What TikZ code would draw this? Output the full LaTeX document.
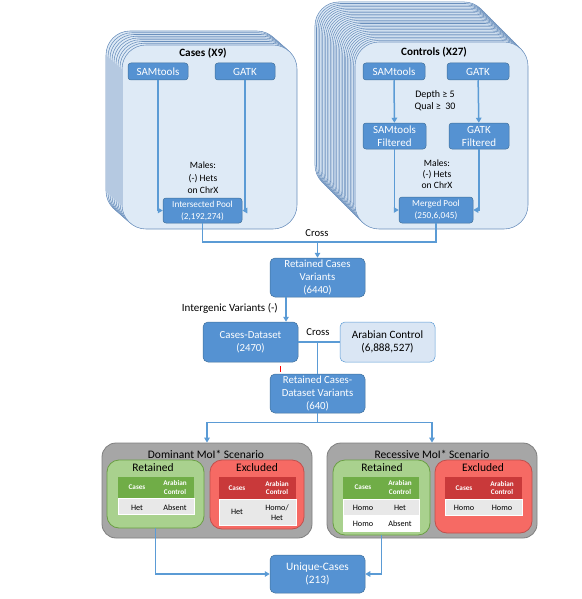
\documentclass[tikz,border=0pt]{standalone}
\usepackage{fontspec}
\setmainfont{Carlito}
\usetikzlibrary{arrows.meta}
\definecolor{toolblue}{HTML}{5592D2}
\definecolor{tooledge}{HTML}{41719C}
\definecolor{cardfill}{HTML}{DEEAF6}
\definecolor{cardedge}{HTML}{6A8FBC}
\definecolor{arabfill}{HTML}{DAE6F4}
\definecolor{linkblue}{HTML}{5B9BD5}
\definecolor{scenfill}{HTML}{A6A6A6}
\definecolor{scenedge}{HTML}{7F7F7F}
\definecolor{retfill}{HTML}{A9D18E}
\definecolor{retedge}{HTML}{6A9E44}
\definecolor{hdrgreen}{HTML}{70AD47}
\definecolor{excfill}{HTML}{F66A64}
\definecolor{excedge}{HTML}{C0504D}
\definecolor{hdrred}{HTML}{C9393A}
\definecolor{rowgray}{HTML}{E8E8E8}
\tikzset{
	card/.style={draw=cardedge, fill=cardfill, line width=0.55pt, rounded corners=24pt},
	tool/.style={draw=tooledge, fill=toolblue, text=white, rounded corners=3pt, align=center, inner sep=0pt, line width=0.5pt, font=\fontsize{11}{13}\selectfont},
	pool/.style={tool, font=\fontsize{9.2}{12}\selectfont},
	stepbox/.style={tool, rounded corners=5pt, font=\fontsize{10.8}{12.7}\selectfont},
	note/.style={align=center, inner sep=0pt, font=\fontsize{9.6}{13}\selectfont},
	cardtitle/.style={inner sep=0pt, font=\bfseries\fontsize{11.2}{13}\selectfont},
	link/.style={draw=linkblue, line width=1.5pt},
	arr/.style={link, ->},
	scenario/.style={draw=scenedge, fill=scenfill, line width=0.8pt, rounded corners=14pt, inner sep=0pt},
	retbox/.style={draw=retedge, fill=retfill, line width=0.8pt, rounded corners=12pt, inner sep=0pt, minimum width=97pt},
	excbox/.style={draw=excedge, fill=excfill, line width=0.8pt, rounded corners=12pt, inner sep=0pt},
	boxtitle/.style={inner sep=0pt, font=\fontsize{11.5}{13}\selectfont},
	hdr/.style={inner sep=0pt, minimum width=76pt, minimum height=22pt},
	row/.style={draw=white, line width=1pt, inner sep=0pt, minimum width=76pt},
	htext/.style={text=white, align=center, inner sep=0pt, font=\bfseries\fontsize{7.2}{8.5}\selectfont},
	ctext/.style={align=center, inner sep=0pt, font=\fontsize{8.2}{10.5}\selectfont}
}
\begin{document}
\begin{tikzpicture}[x=1pt,y=-1pt,>={Triangle[length=5pt,width=5.5pt]}]
	\useasboundingbox (0,0) rectangle (581,599);
	\foreach \i in {8,7,...,0}
		\draw[card] (122-2*\i,45-1.75*\i) rectangle ++(175,184);
	\foreach \i in {26,25,...,0}
		\draw[card] (355-1.54*\i,42-1.54*\i) rectangle ++(173,187);
	\node[cardtitle] (ctitle) at (203,53) {Cases (X9)};
	\node[tool, minimum width=60pt, minimum height=17pt] (csam) at (158,71.5) {SAMtools};
	\node[tool, minimum width=60pt, minimum height=17pt] (cgatk) at (245,71.5) {GATK};
	\node[note, font=\fontsize{9.6}{12.5}\selectfont] (cmale) at (203,178) {Males:\\(-) Hets\\on ChrX};
	\node[pool, minimum width=79pt, minimum height=25pt] (cpool) at (202.5,210.5) {Intersected Pool\\(2,192,274)};
	\draw[arr] (csam.south) |- (cpool.west);
	\draw[arr] (cgatk.south) |- (cpool.east);
	\node[cardtitle] (ktitle) at (434,52) {Controls (X27)};
	\node[tool, minimum width=62pt, minimum height=17pt] (ksam) at (394,71.5) {SAMtools};
	\node[tool, minimum width=62pt, minimum height=17pt] (kgatk) at (478,71.5) {GATK};
	\node[note, font=\fontsize{10}{12}\selectfont] (kdepth) at (435,101) {Depth ≥ 5\\Qual ≥~ 30};
	\node[tool, minimum width=63pt, minimum height=26pt] (ksamf) at (394.5,136) {SAMtools\\Filtered};
	\node[tool, minimum width=60pt, minimum height=26pt] (kgatkf) at (479,136) {GATK\\Filtered};
	\node[note, font=\fontsize{9.6}{11}\selectfont] (kmale) at (437,174) {Males:\\(-) Hets\\on ChrX};
	\node[pool, minimum width=74pt, minimum height=26pt] (kpool) at (436,210) {Merged Pool\\(250,6,045)};
	\draw[arr] (ksam) -- (ksamf);
	\draw[arr] (kgatk) -- (kgatkf);
	\draw[arr] (ksamf.south) |- (kpool.west);
	\draw[arr] (kgatkf.south) |- (kpool.east);
	\node[stepbox, minimum width=95pt, minimum height=39pt] (rcv) at (317.5,277.5) {Retained Cases\\Variants\\(6440)};
	\coordinate (cross1) at (rcv.north |- 0,242);
	\draw[link] (cpool.south) |- (cross1) -| (kpool.south);
	\draw[arr] (cross1) -- (rcv.north);
	\node[note, font=\fontsize{10.6}{12}\selectfont] (cross1txt) at (317,233) {Cross};
	\node[stepbox, minimum width=95pt, minimum height=40pt] (cds) at (250.5,342) {Cases-Dataset\\(2470)};
	\node[stepbox, fill=arabfill, draw=linkblue, text=black, font=\fontsize{11.2}{13}\selectfont, minimum width=95pt, minimum height=40pt] (arab) at (387.5,342) {Arabian Control\\(6,888,527)};
	\draw[arr] ([xshift=-31.5pt]rcv.south) -- ([xshift=-31.5pt]rcv.south |- cds.north);
	\node[note, anchor=east, font=\fontsize{11}{12}\selectfont] (intergenic) at (278,308) {Intergenic Variants (-)};
	\node[stepbox, minimum width=95pt, minimum height=39pt] (rcdv) at (317.5,393.5) {Retained Cases-\\Dataset Variants\\(640)};
	\draw[link] (cds.east) -- (arab.west);
	\draw[link] (rcdv.north |- cds.east) -- (rcdv.north);
	\node[note, font=\fontsize{10.6}{12}\selectfont] (cross2txt) at (318,332) {Cross};
	\draw[red, line width=0.8pt] (280,366) -- (280,372);
	\node[scenario, minimum width=210pt, minimum height=95pt] (dom) at (207,490.5) {};
	\node[scenario, minimum width=210pt, minimum height=95pt] (rec) at (432,490.5) {};
	\draw[arr] (rcdv.south) -- ++(0,9) -| (dom.north);
	\draw[arr] (rcdv.south) -- ++(0,9) -| (rec.north);
	\node[note, font=\fontsize{11.5}{13}\selectfont] (domtitle) at (206,454) {Dominant MoI* Scenario};
	\node[note, font=\fontsize{11.5}{13}\selectfont] (rectitle) at (432,454) {Recessive MoI* Scenario};
	\node[retbox, minimum height=68pt] (domret) at (155.5,494) {};
	\node[excbox, minimum width=94pt, minimum height=69pt] (domexc) at (257,494.5) {};
	\node[retbox, minimum height=75pt] (recret) at (381.5,497.5) {};
	\node[excbox, minimum width=97pt, minimum height=73pt] (recexc) at (483.5,496.5) {};
	\node[boxtitle] (domrett) at (153,468) {Retained};
	\node[boxtitle] (domexct) at (257,468) {Excluded};
	\node[boxtitle] (recrett) at (382,468) {Retained};
	\node[boxtitle] (recexct) at (483,468) {Excluded};
	\node[hdr, fill=hdrgreen, minimum height=21pt] (drh) at (156,487.5) {};
	\node[row, fill=rowgray, minimum height=16pt] (drr) at (156,506) {};
	\node[htext] (drh1) at (137,487.5) {Cases};
	\node[htext] (drh2) at (175,487.5) {Arabian\\Control};
	\node[ctext] (drr1) at (137,507.5) {Het};
	\node[ctext] (drr2) at (175,507.5) {Absent};
	\node[hdr, fill=hdrred, minimum width=77pt] (deh) at (257.5,488) {};
	\node[row, fill=rowgray, minimum width=77pt, minimum height=26pt] (der) at (257.5,512) {};
	\node[htext] (deh1) at (237,488) {Cases};
	\node[htext] (deh2) at (277,488) {Arabian\\Control};
	\node[ctext] (der1) at (237,512) {Het};
	\node[ctext] (der2) at (277,512.5) {Homo/\\Het};
	\node[hdr, fill=hdrgreen] (rrh) at (381,487.5) {};
	\node[row, fill=rowgray, minimum height=16pt] (rrr1) at (381,507) {};
	\node[row, fill=white, minimum height=16pt] (rrr2) at (381,523.5) {};
	\node[htext] (rrh1) at (363,487.5) {Cases};
	\node[htext] (rrh2) at (400,487.5) {Arabian\\Control};
	\node[ctext] (rrr11) at (363,508) {Homo};
	\node[ctext] (rrr12) at (400,508) {Het};
	\node[ctext] (rrr21) at (363,523.5) {Homo};
	\node[ctext] (rrr22) at (400,523.5) {Absent};
	\node[hdr, fill=hdrred, minimum width=77pt] (reh) at (483.5,488) {};
	\node[row, fill=rowgray, minimum width=77pt, minimum height=16pt] (rer) at (483.5,507.5) {};
	\node[htext] (reh1) at (464,488) {Cases};
	\node[htext] (reh2) at (502,488) {Arabian\\Control};
	\node[ctext] (rer1) at (464,508) {Homo};
	\node[ctext] (rer2) at (502,508) {Homo};
	\node[stepbox, font=\fontsize{11.3}{13}\selectfont, minimum width=95pt, minimum height=38pt] (uniq) at (317.5,574) {Unique-Cases\\(213)};
	\draw[arr] (domret.south) |- (uniq.west);
	\draw[arr] (recret.south) |- (uniq.east);
\end{tikzpicture}
\end{document}
